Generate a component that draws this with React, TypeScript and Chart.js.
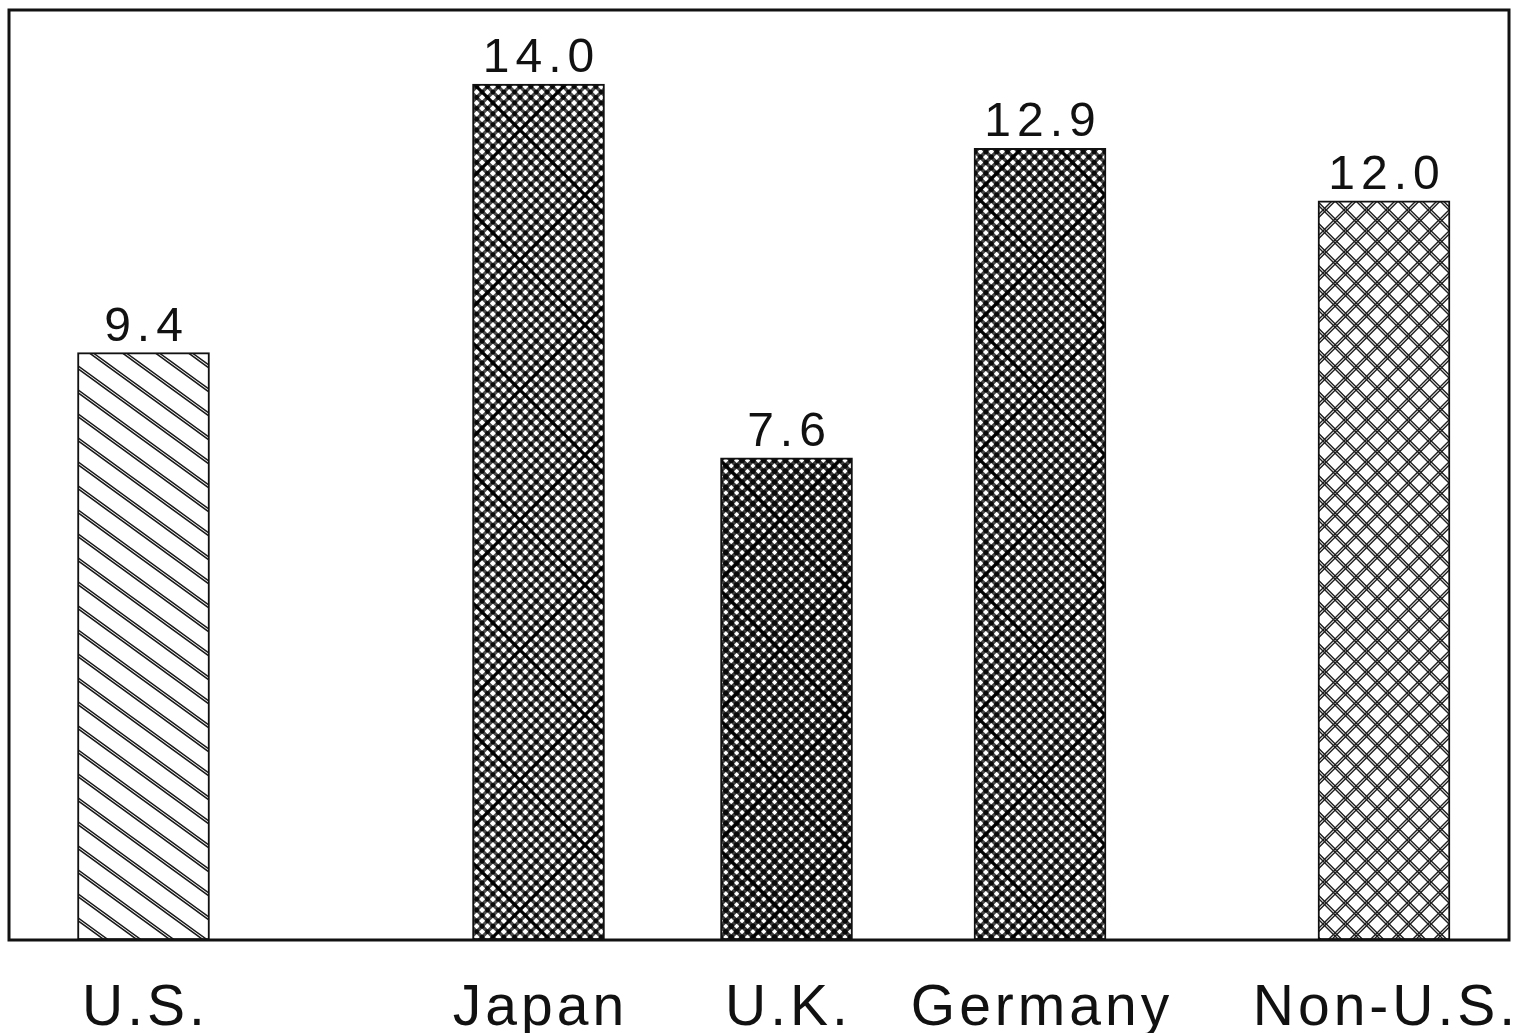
import { useEffect, useRef } from "react";
import { Chart, registerables } from "chart.js";

Chart.register(...registerables);

// ---- data ----
const categories = ["U.S.", "Japan", "U.K.", "Germany", "Non-U.S."];
const values = [9.4, 14.0, 7.6, 12.9, 12.0];
const valueLabels = ["9.4", "14.0", "7.6", "12.9", "12.0"];

// ---- layout (x slots on a 0..15 axis, value-axis range) ----
const barSlots = [1.345, 5.295, 7.775, 10.31, 13.75];
const X_MIN = 0;
const X_MAX = 15;
const Y_MIN = -0.66;
const Y_MAX = 15.27;

type Ctx = CanvasRenderingContext2D;

function makeTile(w: number, h: number, draw: (c: Ctx) => void) {
  const t = document.createElement("canvas");
  t.width = w;
  t.height = h;
  const c = t.getContext("2d")!;
  c.fillStyle = "#ffffff";
  c.fillRect(0, 0, w, h);
  draw(c);
  return t;
}

// dir 1 = "\" (down-right), dir -1 = "/" (down-left)
function lineFamily(c: Ctx, W: number, H: number, offsets: number[], dir: number, lw: number, color: string) {
  c.strokeStyle = color;
  c.lineWidth = lw;
  c.beginPath();
  for (const o of offsets) {
    for (const s of [-2 * W, -W, 0, W, 2 * W]) {
      if (dir > 0) {
        c.moveTo(s + o - W, -H);
        c.lineTo(s + o + 2 * W, 2 * H);
      } else {
        c.moveTo(s + o + 2 * W, -H);
        c.lineTo(s + o - W, 2 * H);
      }
    }
  }
  c.stroke();
}

function denseTile(T: number, n: number, lw: number, dot: number, fine: string) {
  return makeTile(T, T, (c) => {
    const p = T / n;
    const offs: number[] = [];
    for (let k = 0; k < n; k++) offs.push(k * p);
    lineFamily(c, T, T, offs, 1, lw, fine);
    lineFamily(c, T, T, offs, -1, lw, fine);
    c.fillStyle = "#0a0a0a";
    for (let i = 0; i <= 2 * n; i++) {
      for (let j = 0; j <= 2 * n; j++) {
        if ((i + j) % 2 !== 0) continue;
        c.beginPath();
        c.arc((i * p) / 2, (j * p) / 2, dot, 0, Math.PI * 2);
        c.fill();
      }
    }
    lineFamily(c, T, T, [0], 1, 2.4, "#000");
    lineFamily(c, T, T, [0], -1, 2.4, "#000");
  });
}

export default function App() {
  const ref = useRef<HTMLCanvasElement>(null);

  useEffect(() => {
    const canvas = ref.current!;
    const ctx = canvas.getContext("2d")!;

    const usTile = makeTile(33, 24, (c) => lineFamily(c, 33, 24, [0, 4], 1, 1.5, "#1a1a1a"));
    const japanTile = denseTile(130, 12, 3.4, 2.4, "#4a4a4a");
    const ukTile = denseTile(130, 12, 4.0, 2.7, "#3a3a3a");
    const gerTile = denseTile(130, 12, 3.6, 2.5, "#444");
    const nonUsTile = makeTile(21, 21, (c) => {
      lineFamily(c, 21, 21, [0, 3.2], 1, 1.4, "#1e1e1e");
      lineFamily(c, 21, 21, [0, 3.2], -1, 1.4, "#1e1e1e");
    });
    const patterns = [usTile, japanTile, ukTile, gerTile, nonUsTile].map(
      (t) => ctx.createPattern(t, "repeat") as CanvasPattern
    );

    const labelsPlugin = {
      id: "labelsAndFrame",
      afterDraw(chart: any) {
        const c: Ctx = chart.ctx;
        const area = chart.chartArea;
        c.save();
        c.strokeStyle = "#111";
        c.lineWidth = 3;
        c.strokeRect(area.left, area.top, area.right - area.left, area.bottom - area.top);
        const meta = chart.getDatasetMeta(0);
        c.fillStyle = "#111";
        c.textAlign = "center";
        c.textBaseline = "alphabetic";
        meta.data.forEach((el: any, i: number) => {
          const { x, y } = el.getProps(["x", "y"], true);
          c.font = '48px "Liberation Sans", Arial, sans-serif';
          (c as any).letterSpacing = "6px";
          c.fillText(valueLabels[i], x + 3, y - 12);
          c.font = '57px "Liberation Sans", Arial, sans-serif';
          (c as any).letterSpacing = "4px";
          c.fillText(categories[i], x + 2, area.bottom + 85);
        });
        c.restore();
      },
    };

    const chart = new Chart(canvas, {
      type: "bar",
      data: {
        labels: categories,
        datasets: [
          {
            data: values.map((v, i) => ({ x: barSlots[i], y: v })) as any,
            backgroundColor: patterns as any,
            borderColor: "#111",
            borderWidth: 2,
            borderSkipped: false,
            barThickness: 132,
            base: Y_MIN,
          } as any,
        ],
      },
      options: {
        animation: false,
        responsive: false,
        layout: { padding: { left: 9, top: 10, right: 10, bottom: 93 } },
        plugins: { legend: { display: false }, tooltip: { enabled: false } },
        scales: {
          x: { type: "linear", min: X_MIN, max: X_MAX, offset: false, display: false },
          y: { min: Y_MIN, max: Y_MAX, display: false },
        },
      },
      plugins: [labelsPlugin],
    });
    return () => chart.destroy();
  }, []);

  return (
    <div style={{ position: "fixed", left: 0, top: 0, width: 1519, height: 1033, background: "#fff" }}>
      <canvas ref={ref} width={1519} height={1033} style={{ display: "block" }} />
    </div>
  );
}
